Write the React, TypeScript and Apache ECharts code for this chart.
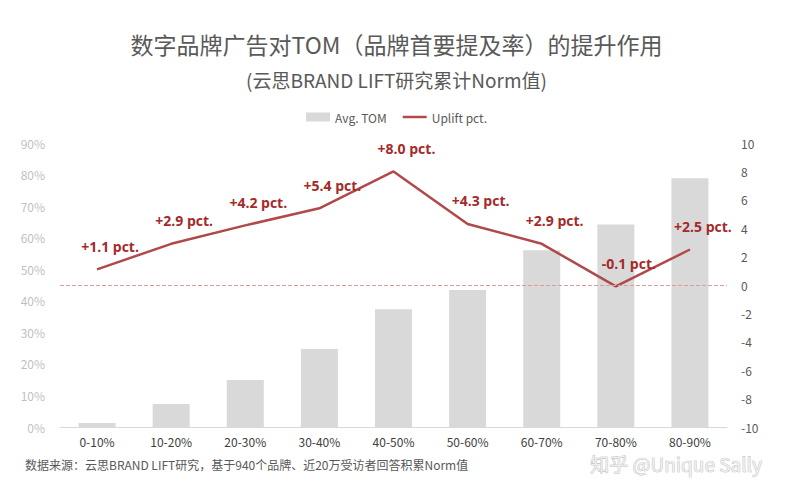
import React, { useEffect, useRef } from "react";
import * as echarts from "echarts";

const categories = ["0-10%", "10-20%", "20-30%", "30-40%", "40-50%", "50-60%", "60-70%", "70-80%", "80-90%"];
const avgTom = [1.3, 7.3, 14.9, 24.7, 37.3, 43.4, 56.0, 64.2, 78.8];
const uplift = [1.1, 2.9, 4.2, 5.4, 8.0, 4.3, 2.9, -0.1, 2.5];

const titleText = "数字品牌广告对TOM（品牌首要提及率）的提升作用";
const subtitleText = "(云思BRAND LIFT研究累计Norm值)";
const sourceText = "数据来源：云思BRAND LIFT研究，基于940个品牌、近20万受访者回答积累Norm值";
const watermarkText = "知乎 @Unique Sally";

const FONT = "'Noto Sans CJK SC', 'Open Sans', sans-serif";

export default function App() {
  const ref = useRef<HTMLDivElement>(null);
  useEffect(() => {
    document.body.style.margin = "0";
    if (!ref.current) return;
    const chart = echarts.init(ref.current, undefined, { renderer: "svg" });
    chart.setOption({
      animation: false,
      backgroundColor: "#ffffff",
      textStyle: { fontFamily: FONT },
      title: [
        {
          text: titleText,
          left: "center",
          top: 27,
          textStyle: { fontSize: 23, fontWeight: "normal", color: "#595959", fontFamily: FONT },
        },
        {
          text: subtitleText,
          left: "center",
          top: 65,
          textStyle: { fontSize: 19, fontWeight: "normal", color: "#595959", fontFamily: FONT },
        },
      ],
      legend: {
        top: 106,
        left: "center",
        itemGap: 16,
        itemWidth: 24,
        itemHeight: 9,
        textStyle: { fontSize: 12, color: "#595959", fontFamily: FONT },
        data: [
          { name: "Avg. TOM", icon: "rect" },
          { name: "Uplift pct.", icon: "path://M0,0 H24 V2.5 H0 Z" },
        ],
      },
      grid: { left: 60, right: 66, top: 143, bottom: 73 },
      xAxis: {
        type: "category",
        data: categories,
        axisLine: { lineStyle: { color: "#d9d9d9" } },
        axisTick: { show: false },
        axisLabel: { fontSize: 12, color: "#404040", margin: 8, fontFamily: FONT },
      },
      yAxis: [
        {
          type: "value",
          min: 0,
          max: 90,
          interval: 10,
          axisLine: { show: false },
          axisTick: { show: false },
          splitLine: { show: false },
          axisLabel: { formatter: "{value}%", fontSize: 12, color: "#bfbfbf", margin: 15 },
        },
        {
          type: "value",
          min: -10,
          max: 10,
          interval: 2,
          axisLine: { show: false },
          axisTick: { show: false },
          splitLine: { show: false },
          axisLabel: { fontSize: 12, color: "#595959", margin: 14, align: "left" },
        },
      ],
      series: [
        {
          name: "Avg. TOM",
          type: "bar",
          data: avgTom,
          barWidth: 37,
          itemStyle: { color: "#d9d9d9" },
          yAxisIndex: 0,
        },
        {
          name: "Uplift pct.",
          type: "line",
          data: uplift,
          yAxisIndex: 1,
          symbol: "circle",
          symbolSize: 0,
          showSymbol: true,
          lineStyle: { color: "#b04a4a", width: 2.5 },
          itemStyle: { color: "#b04a4a" },
          label: {
            show: true,
            position: "top",
            distance: 5,
            offset: [13, -11],
            fontSize: 14,
            fontWeight: "bold",
            color: "#a52a2a",
            fontFamily: "'Open Sans', sans-serif",
            formatter: (p: any) => (p.value >= 0 ? "+" : "") + p.value.toFixed(1) + " pct.",
          },
          markLine: {
            silent: true,
            symbol: "none",
            label: { show: false },
            lineStyle: { color: "#e09a9a", type: "dashed", width: 1 },
            data: [{ yAxis: 0 }],
          },
        },
      ],
      graphic: [
        {
          type: "text",
          left: 25,
          top: 458,
          style: { text: sourceText, fontSize: 12, fill: "#595959", fontFamily: FONT },
        },
        {
          type: "text",
          left: 590,
          top: 454,
          style: {
            text: watermarkText,
            fontSize: 19,
            fill: "#eeeeee",
            stroke: "#b0b0b0",
            lineWidth: 0.7,
            fontFamily: "'Noto Sans CJK SC', Roboto, sans-serif",
          },
        },
      ],
    });
    return () => chart.dispose();
  }, []);
  return <div ref={ref} style={{ width: 793, height: 500 }} />;
}
